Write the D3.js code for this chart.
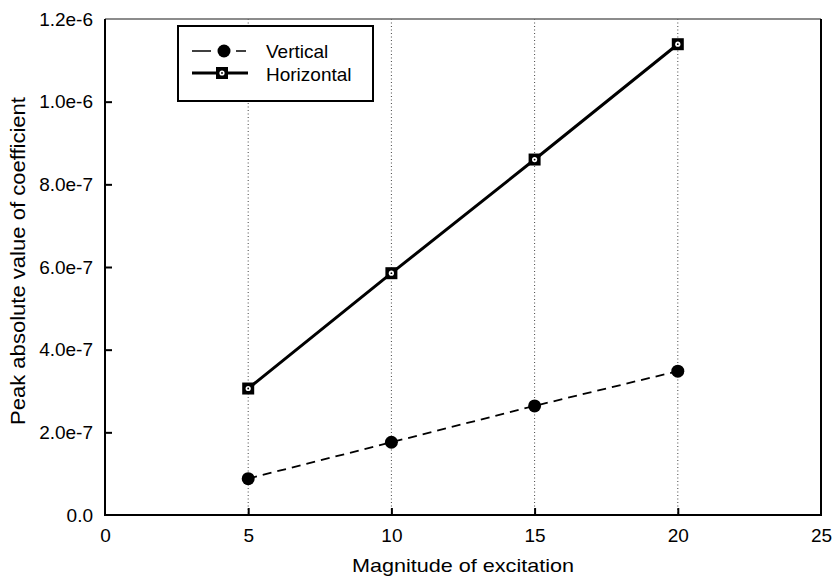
<!DOCTYPE html>
<html>
<head>
<meta charset="utf-8">
<script src="https://cdn.jsdelivr.net/npm/d3@7"></script>
<style>
  html, body { margin: 0; padding: 0; background: #fff; }
  svg text { font-family: "Liberation Sans", Arial, Helvetica, sans-serif; fill: #000; }
</style>
</head>
<body>
<svg id="chart" width="832" height="578"></svg>
<script>
// Excitation magnitudes and the peak coefficient values for each direction
const magnitudes = [5, 10, 15, 20];
const verticalPeak = [0.88e-7, 1.76e-7, 2.64e-7, 3.48e-7];
const horizontalPeak = [3.06e-7, 5.85e-7, 8.6e-7, 1.139e-6];

const xTicks = [0, 5, 10, 15, 20, 25];
const yTicks = [0, 2e-7, 4e-7, 6e-7, 8e-7, 1.0e-6, 1.2e-6];
const yTickLabels = ["0.0", "2.0e-7", "4.0e-7", "6.0e-7", "8.0e-7", "1.0e-6", "1.2e-6"];
const seriesNames = ["Vertical", "Horizontal"];

const svg = d3.select("#chart");
const plotL = 105, plotR = 821, plotT = 19, plotB = 515;

const x = d3.scaleLinear().domain([0, 25]).range([plotL, plotR]);
const y = d3.scaleLinear().domain([0, 1.2e-6]).range([plotB, plotT]);

// dotted reference lines at each data column
svg.append("g").selectAll("line")
  .data(magnitudes)
  .join("line")
  .attr("x1", d => x(d)).attr("x2", d => x(d))
  .attr("y1", plotT).attr("y2", plotB)
  .attr("stroke", "#444").attr("stroke-width", 1)
  .attr("stroke-dasharray", "1,2.5");

// bottom axis: inward ticks at inner values, labels below
const xAxis = d3.axisBottom(x).tickValues(xTicks).tickSize(0).tickPadding(14)
  .tickFormat(d3.format("d"));
const gx = svg.append("g").attr("transform", `translate(0,${plotB})`).call(xAxis);
gx.select(".domain").remove();
gx.selectAll("text").attr("font-size", 19).attr("font-family", null).attr("fill", null);
gx.selectAll(".tick").filter(d => d > 0 && d < 25).append("line")
  .attr("y1", 0).attr("y2", -7).attr("stroke", "#000").attr("stroke-width", 2);

// left axis
const yAxis = d3.axisLeft(y).tickValues(yTicks).tickSize(0).tickPadding(12)
  .tickFormat((d, i) => yTickLabels[i]);
const gy = svg.append("g").attr("transform", `translate(${plotL},0)`).call(yAxis);
gy.select(".domain").remove();
gy.selectAll("text").attr("font-size", 19).attr("font-family", null).attr("fill", null);
gy.selectAll(".tick").filter(d => d > 0 && d < 1.2e-6).append("line")
  .attr("x1", 0).attr("x2", 7).attr("stroke", "#000").attr("stroke-width", 2);

// plot frame
svg.append("line").attr("x1", plotL).attr("x2", plotR).attr("y1", plotT).attr("y2", plotT)
  .attr("stroke", "#666").attr("stroke-width", 1.5);
svg.append("path")
  .attr("d", `M${plotL},${plotT}V${plotB}H${plotR}V${plotT}`)
  .attr("fill", "none").attr("stroke", "#000").attr("stroke-width", 2);

// series lines
const vData = magnitudes.map((m, i) => [m, verticalPeak[i]]);
const hData = magnitudes.map((m, i) => [m, horizontalPeak[i]]);
const line = d3.line().x(d => x(d[0])).y(d => y(d[1]));

svg.append("path").datum(vData).attr("d", line)
  .attr("fill", "none").attr("stroke", "#000").attr("stroke-width", 1.8)
  .attr("stroke-dasharray", "9,6");
svg.append("path").datum(hData).attr("d", line)
  .attr("fill", "none").attr("stroke", "#000").attr("stroke-width", 3);

function squareMarker(g, cx, cy) {
  g.append("rect").attr("x", cx - 6).attr("y", cy - 6).attr("width", 12).attr("height", 12)
    .attr("fill", "#000");
  g.append("circle").attr("cx", cx).attr("cy", cy).attr("r", 2.6).attr("fill", "#fff");
  g.append("circle").attr("cx", cx).attr("cy", cy).attr("r", 0.9).attr("fill", "#000");
}

svg.append("g").selectAll("circle").data(vData).join("circle")
  .attr("cx", d => x(d[0])).attr("cy", d => y(d[1])).attr("r", 6.5).attr("fill", "#000");
const hm = svg.append("g");
hData.forEach(d => squareMarker(hm, x(d[0]), y(d[1])));

// legend
const lg = svg.append("g");
lg.append("rect").attr("x", 178).attr("y", 26).attr("width", 195).attr("height", 75)
  .attr("fill", "#fff").attr("stroke", "#000").attr("stroke-width", 2);
lg.append("line").attr("x1", 192).attr("x2", 211).attr("y1", 51).attr("y2", 51)
  .attr("stroke", "#000").attr("stroke-width", 1.5);
lg.append("line").attr("x1", 236).attr("x2", 246).attr("y1", 51).attr("y2", 51)
  .attr("stroke", "#000").attr("stroke-width", 1.5);
lg.append("circle").attr("cx", 224).attr("cy", 51).attr("r", 6.5).attr("fill", "#000");
lg.append("line").attr("x1", 192).attr("x2", 248).attr("y1", 73).attr("y2", 73)
  .attr("stroke", "#000").attr("stroke-width", 3);
squareMarker(lg, 222, 73);
lg.selectAll("text.lab").data(seriesNames).join("text").attr("class", "lab")
  .attr("x", 266).attr("y", (d, i) => 58 + i * 23)
  .attr("font-size", 19).text(d => d);

// axis titles
svg.append("text").attr("x", x(12.5)).attr("y", 572).attr("text-anchor", "middle")
  .attr("font-size", 19).attr("textLength", 222).attr("lengthAdjust", "spacingAndGlyphs")
  .text("Magnitude of excitation");
svg.append("text").attr("transform", `translate(25,261) rotate(-90)`)
  .attr("text-anchor", "middle").attr("font-size", 20)
  .attr("textLength", 328).attr("lengthAdjust", "spacingAndGlyphs")
  .text("Peak absolute value of coefficient");
</script>
</body>
</html>
